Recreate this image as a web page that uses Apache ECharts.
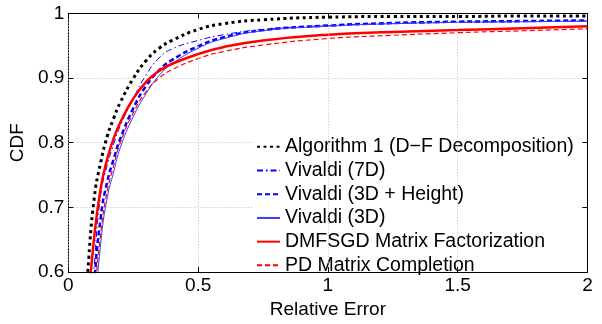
<!DOCTYPE html>
<html>
<head>
<meta charset="utf-8">
<script src="https://cdn.jsdelivr.net/npm/echarts@6/dist/echarts.min.js"></script>
<style>
  html, body { margin: 0; padding: 0; background: #fff; }
  #plot { width: 602px; height: 324px; }
</style>
</head>
<body>
<div id="plot"></div>
<script>
// relative error grid shared by every curve
const relErr = [0.05, 0.075, 0.1, 0.125, 0.15, 0.175, 0.2, 0.25, 0.3, 0.35, 0.4, 0.5, 0.6, 0.75, 1, 1.25, 1.5, 1.75, 2];

// CDF values
const cdfAlgo1  = [0.45, 0.60, 0.715, 0.77, 0.81, 0.838, 0.862, 0.899, 0.927, 0.946, 0.958, 0.975, 0.984, 0.99, 0.994, 0.995, 0.995, 0.996, 0.996];
const cdfViv7D  = [0.30, 0.45, 0.61, 0.72, 0.765, 0.798, 0.826, 0.868, 0.905, 0.931, 0.945, 0.958, 0.967, 0.975, 0.981, 0.984, 0.986, 0.987, 0.988];
const cdfViv3DH = [0.25, 0.40, 0.58, 0.685, 0.74, 0.775, 0.806, 0.853, 0.888, 0.912, 0.928, 0.949, 0.963, 0.974, 0.981, 0.985, 0.987, 0.988, 0.989];
const cdfViv3D  = [0.20, 0.35, 0.52, 0.645, 0.715, 0.755, 0.792, 0.84, 0.876, 0.904, 0.922, 0.946, 0.961, 0.973, 0.98, 0.984, 0.986, 0.987, 0.988];
const cdfDMFSGD = [0.40, 0.54, 0.655, 0.73, 0.775, 0.807, 0.831, 0.868, 0.894, 0.911, 0.922, 0.937, 0.948, 0.958, 0.967, 0.971, 0.974, 0.977, 0.98];
const cdfPD     = [0.22, 0.37, 0.55, 0.66, 0.725, 0.765, 0.80, 0.846, 0.879, 0.9, 0.913, 0.93, 0.941, 0.951, 0.961, 0.966, 0.97, 0.973, 0.976];

const names = [
    'Algorithm 1 (D\u2212F Decomposition)',
    'Vivaldi (7D)',
    'Vivaldi (3D + Height)',
    'Vivaldi (3D)',
    'DMFSGD Matrix Factorization',
    'PD Matrix Completion'
];
const xTicks = [0, 0.5, 1, 1.5, 2];
const yTicks = [0.6, 0.7, 0.8, 0.9, 1];

const FONT = 'Liberation Sans, Arial, Helvetica, sans-serif';

function pairs(ys) {
    return relErr.map(function (x, i) { return [x, ys[i]]; });
}

function curve(name, ys, color, width, dash) {
    return {
        name: name,
        type: 'line',
        data: pairs(ys),
        symbol: 'none',
        smooth: 0.5,
        clip: true,
        lineStyle: { color: color, width: width, type: dash },
        itemStyle: { color: color },
        z: 2
    };
}

let chart = echarts.init(document.getElementById('plot'));

let axisText = { color: '#000', fontSize: 19, fontFamily: FONT };

let option = {
    animation: false,
    backgroundColor: '#fff',
    grid: { left: 67, right: 14.5, top: 13.3, bottom: 44 },
    legend: {
        orient: 'vertical',
        left: 254,
        top: 134,
        itemWidth: 23,
        itemHeight: 10,
        itemGap: 0,
        padding: [1, 5, 4, 2],
        backgroundColor: '#fff',
        itemStyle: { opacity: 0 },
        z: 3,
        data: names,
        textStyle: { color: '#000', fontSize: 19.5, fontFamily: FONT, lineHeight: 23.7 }
    },
    xAxis: [
        {
            type: 'value', min: xTicks[0], max: xTicks[xTicks.length - 1], interval: 0.5,
            position: 'bottom', z: 5,
            name: 'Relative Error', nameLocation: 'middle', nameGap: 27,
            nameTextStyle: axisText,
            axisLine: { show: true, lineStyle: { color: '#000', width: 1 } },
            axisTick: { show: true, inside: true, length: 5, lineStyle: { color: '#000' } },
            axisLabel: Object.assign({ margin: 4 }, axisText),
            splitLine: { show: true, lineStyle: { color: '#bdbdbd', width: 1, type: [1, 2] } }
        },
        {
            type: 'value', min: xTicks[0], max: xTicks[xTicks.length - 1], interval: 0.5,
            position: 'top', z: 5,
            axisLine: { show: true, onZero: false, lineStyle: { color: '#000', width: 1 } },
            axisTick: { show: true, inside: true, length: 5, lineStyle: { color: '#000' } },
            axisLabel: { show: false },
            splitLine: { show: false }
        }
    ],
    yAxis: [
        {
            type: 'value', min: yTicks[0], max: yTicks[yTicks.length - 1], interval: 0.1,
            position: 'left', z: 0,
            name: 'CDF', nameLocation: 'middle', nameGap: 33, nameRotate: 90,
            nameTextStyle: axisText,
            axisLine: { show: true, onZero: false, lineStyle: { color: '#000', width: 1 } },
            axisTick: { show: true, inside: true, length: 5, lineStyle: { color: '#000' } },
            axisLabel: Object.assign({ margin: 4 }, axisText),
            splitLine: { show: true, lineStyle: { color: '#bdbdbd', width: 1, type: [1, 2] } }
        },
        {
            type: 'value', min: yTicks[0], max: yTicks[yTicks.length - 1], interval: 0.1,
            position: 'right', z: 5,
            axisLine: { show: true, onZero: false, lineStyle: { color: '#000', width: 1 } },
            axisTick: { show: true, inside: true, length: 5, lineStyle: { color: '#000' } },
            axisLabel: { show: false },
            splitLine: { show: false }
        }
    ],
    series: [
        curve(names[0], cdfAlgo1, '#000000', 3, [3, 3.5]),
        curve(names[1], cdfViv7D, '#0000ff', 1, [6, 3, 1.5, 3]),
        curve(names[2], cdfViv3DH, '#0000ff', 2.5, [5, 3]),
        curve(names[3], cdfViv3D, '#3c3cff', 1, 'solid'),
        curve(names[4], cdfDMFSGD, '#ff0000', 2.5, 'solid'),
        curve(names[5], cdfPD, '#ff0000', 1.2, [5, 3])
    ]
};

chart.setOption(option);
</script>
</body>
</html>
